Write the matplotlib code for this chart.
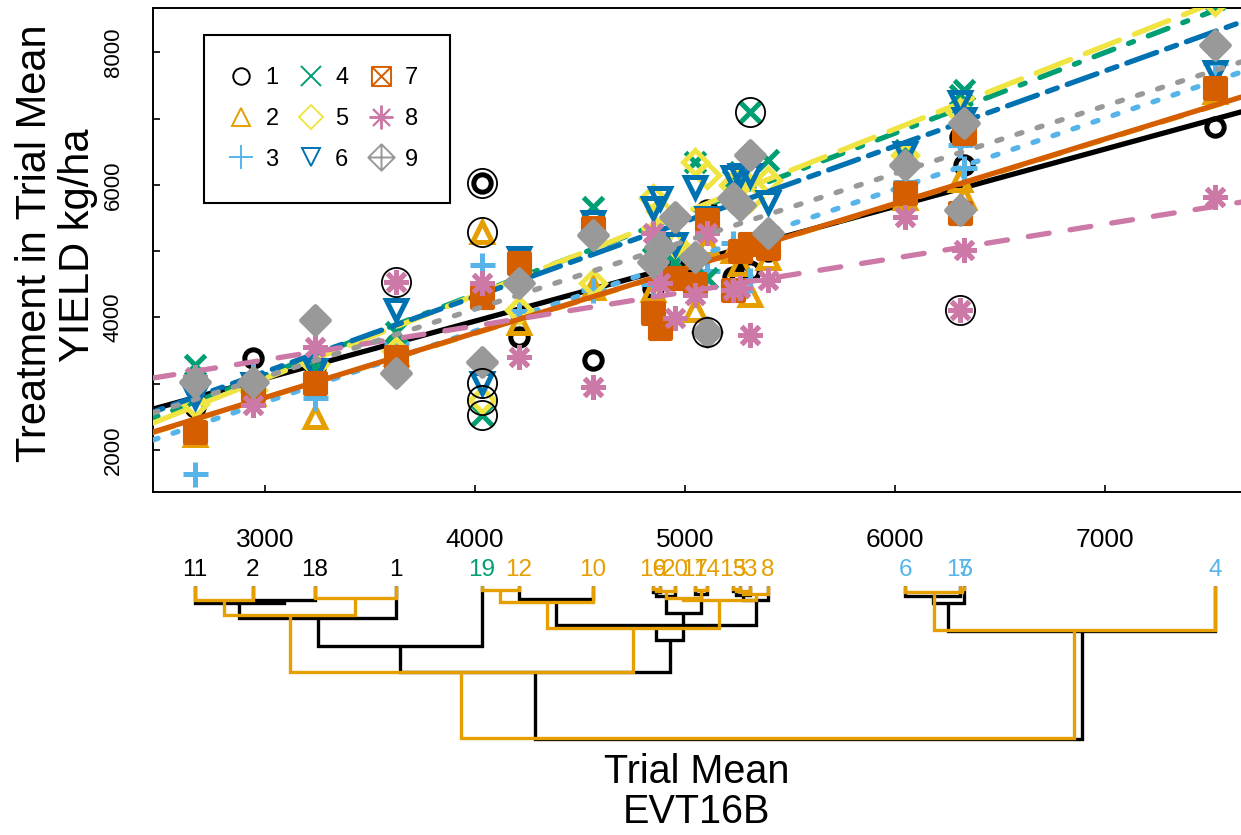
import numpy as np
import matplotlib
matplotlib.use("Agg")
import matplotlib.pyplot as plt
from matplotlib.path import Path
from matplotlib.lines import Line2D

plt.rcParams['font.family'] = ['Liberation Sans', 'DejaVu Sans']

# ---------------- data ----------------
genotypes = [1, 2, 3, 4, 5, 6, 7, 8, 9]
trial_labels = [11, 2, 18, 1, 19, 12, 10, 16, 9, 20, 17, 14, 13, 5, 3, 8, 6, 15, 7, 4]
trial_means = [2667, 2943, 3238, 3624, 4033, 4210, 4562, 4848, 4881, 4952,
               5048, 5105, 5229, 5262, 5310, 5395, 6048, 6310, 6329, 7524]
# leaf label colour group per trial
trial_group = ['k', 'k', 'k', 'k', 'g', 'o', 'o', 'o', 'o', 'o',
               'o', 'o', 'o', 'o', 'o', 'o', 's', 's', 's', 's']

# yield (kg/ha) of genotypes 1..9 in each trial
yield_by_trial = {
    11: [2650, 2226, 1640, 3282, 2700, 2800, 2271, 3100, 3025],
    2:  [3387, 2850, 3150, 2950, 2900, 3000, 2905, 2680, 3025],
    18: [3250, 2500, 2785, 3250, 3300, 3200, 3010, 3553, 3960],
    1:  [3600, 3450, 3614, 3780, 3500, 4111, 3402, 4533, 3160],
    19: [6027, 5287, 4790, 2528, 2754, 3010, 4307, 4518, 3327],
    12: [3704, 3915, 4100, 4700, 4111, 4900, 4820, 3402, 4518],
    10: [3357, 4450, 4412, 5665, 4518, 5440, 5348, 2950, 5242],
    16: [4443, 4412, 4500, 4900, 5800, 5650, 4066, 5272, 4835],
    9:  [4800, 4600, 4700, 5000, 5600, 5800, 3840, 4518, 5061],
    20: [4900, 5212, 4900, 4835, 5100, 5100, 4600, 3990, 5514],
    17: [4609, 4111, 4900, 6343, 6343, 5967, 4500, 4337, 4910],
    14: [5620, 5100, 4700, 4594, 6147, 5500, 5468, 5272, 3780],
    13: [4609, 5000, 5121, 6070, 6000, 6117, 4412, 4412, 5800],
    5:  [4650, 4800, 5100, 6200, 6100, 6150, 5000, 4450, 5700],
    3:  [4700, 4337, 4563, 7097, 5800, 6147, 5100, 3735, 6449],
    8:  [5000, 4900, 5300, 6373, 6070, 5740, 5050, 4563, 5272],
    6:  [5800, 5800, 6040, 6524, 6450, 6479, 5875, 5514, 6298],
    15: [6720, 6070, 6600, 7350, 7100, 7250, 5574, 4111, 5619],
    7:  [6300, 5800, 6250, 7430, 6900, 7000, 6780, 5016, 6932],
    4:  [6870, 7400, 7836, 8800, 8750, 7700, 7460, 5815, 8108],
}

# regression of each genotype on trial mean
reg_intercept = [484, -140, -491, -517, -689, -227, -134, 1823, 37]
reg_slope = [0.865, 0.975, 1.071, 1.216, 1.255, 1.135, 0.975, 0.512, 1.022]

# points flagged as outliers (trial, genotype)
outliers = [(19, 1), (19, 2), (19, 6), (19, 5), (19, 4), (1, 8), (3, 4), (14, 9), (15, 8)]

# agglomeration of trials, two clusterings: (left, right, height)
tree_black = {
    'b1': (2, 18, 14), 'b2': (11, 'b1', 17), 'b3': ('b2', 1, 32), 'b4': ('b3', 19, 60),
    'b5': (12, 10, 13),
    'm1': (16, 9, 6), 'm2': ('m1', 20, 10), 'm3': (17, 14, 8), 'm4': ('m2', 'm3', 27),
    'm5': (13, 5, 5), 'm6': ('m5', 3, 9), 'm7': ('m6', 8, 14),
    'b6': ('b5', 'm7', 39), 'b7': ('b6', 'm4', 54), 'b8': ('b4', 'b7', 86),
    'r1': (6, 15, 10), 'r2': ('r1', 7, 17), 'r3': ('r2', 4, 45),
    'root': ('b8', 'r3', 153),
}
tree_orange = {
    'o1': (11, 2, 14), 'o2': (18, 1, 12), 'o3': ('o1', 'o2', 29),
    'o4': (19, 12, 4), 'o5': ('o4', 10, 16),
    'p1': (16, 9, 3), 'p2': ('p1', 20, 5), 'p3': (17, 14, 4), 'p4': ('p2', 'p3', 12),
    'p5': (13, 5, 3), 'p6': ('p5', 3, 5), 'p7': ('p6', 8, 8), 'p8': ('p4', 'p7', 14),
    'o6': ('o5', 'p8', 42), 'o7': ('o3', 'o6', 86),
    'q1': (15, 7, 3), 'q2': (6, 'q1', 6), 'q3': ('q2', 4, 44),
    'root': ('o7', 'q3', 152),
}

# ---------------- styles ----------------
cols = ['#000000', '#E69F00', '#56B4E9', '#009E73', '#F0E442',
        '#0072B2', '#D55E00', '#CC79A7', '#999999']
group_col = {'k': '#000000', 'g': '#009E73', 'o': '#E69F00', 's': '#56B4E9'}

box_x = Path([(-1, -1), (1, -1), (1, 1), (-1, 1), (-1, -1),
              (-1, -1), (1, 1), (1, -1), (-1, 1)],
             [Path.MOVETO, Path.LINETO, Path.LINETO, Path.LINETO, Path.CLOSEPOLY,
              Path.MOVETO, Path.LINETO, Path.MOVETO, Path.LINETO])
diam_plus = Path([(0, -1), (1, 0), (0, 1), (-1, 0), (0, -1),
                  (0, -1), (0, 1), (-1, 0), (1, 0)],
                 [Path.MOVETO, Path.LINETO, Path.LINETO, Path.LINETO, Path.CLOSEPOLY,
                  Path.MOVETO, Path.LINETO, Path.MOVETO, Path.LINETO])
asterisk = (8, 2, 0)

markers = ['o', '^', '+', 'x', 'D', 'v', box_x, asterisk, diam_plus]
msizes = [12.5, 14, 18, 14.5, 12.5, 14, 14.5, 18, 20]
filled = [False, False, False, False, False, False, True, False, True]
ltypes = ['-', (0, (4, 4)), (0, (1, 3)), (0, (1, 3, 4, 3)), (0, (7, 3)),
          (0, (2, 2, 6, 2)), '-', (0, (4, 4)), (0, (1, 3))]

W, H = 1241, 835
fig = plt.figure(figsize=(W / 100, H / 100), dpi=100)

def fx(px):
    return px / W

def fy(py):
    return 1 - py / H

# ---------------- main panel ----------------
ax = fig.add_axes([fx(153), fy(492), fx(1241) - fx(153), fy(8) - fy(492)])
ax.set_xlim(2467, 7648)
ax.set_ylim(1367, 8667)

tm = dict(zip(trial_labels, trial_means))
xline = np.array(ax.get_xlim())
for g in range(9):
    xs = np.array(trial_means)
    ys = np.array([yield_by_trial[t][g] for t in trial_labels])
    ax.plot(xs, ys, linestyle='none', marker=markers[g], ms=msizes[g],
            mew=3.6, color=cols[g],
            mfc=cols[g] if filled[g] else 'none', zorder=2 + g)
    ax.plot(xline, reg_intercept[g] + reg_slope[g] * xline, color=cols[g],
            lw=3.8, linestyle=ltypes[g], dash_capstyle='round',
            solid_capstyle='round', zorder=2 + g)

for t, g in outliers:
    ax.plot([tm[t]], [yield_by_trial[t][g - 1]], linestyle='none', marker='o',
            ms=21, mew=1.3, mfc='none', color='black', zorder=20)

ax.spines['right'].set_visible(False)
for s in ['left', 'top', 'bottom']:
    ax.spines[s].set_linewidth(1.4)
ax.set_xticks([3000, 4000, 5000, 6000, 7000])
ax.set_xticklabels(['3000', '4000', '5000', '6000', '7000'], fontsize=19)
ax.set_yticks([2000, 4000, 6000, 8000])
ax.set_yticks([3000, 5000, 7000], minor=True)
ax.set_yticklabels(['2000', '4000', '6000', '8000'], fontsize=16,
                   rotation=90, va='center')
ax.tick_params(axis='x', direction='in', length=5, width=1.2, pad=26)
ax.tick_params(axis='y', which='both', direction='in', length=5, width=1.2, pad=21)

handles = [Line2D([], [], linestyle='none', marker=markers[g],
                  ms=msizes[g] * 0.95, mew=1.4, color=cols[g], mfc='none')
           for g in range(9)]
leg = ax.legend(handles, [str(g) for g in genotypes], ncol=3, fontsize=17,
                loc='upper left', bbox_to_anchor=(fx(204), fy(35)),
                bbox_transform=fig.transFigure, borderaxespad=0,
                handlelength=0.45, handletextpad=0.8, columnspacing=1.15,
                labelspacing=0.8, borderpad=1.35, fancybox=False, framealpha=1)
leg.get_frame().set_edgecolor('black')
leg.get_frame().set_linewidth(1.5)
leg.set_zorder(30)

# ---------------- dendrogram ----------------
dax = fig.add_axes([fx(153), 0, fx(1241) - fx(153), fy(586)])
dax.set_xlim(ax.get_xlim())
dax.set_ylim(249, 0)
dax.axis('off')

def draw_tree(tree, color, lw):
    pos = {t: m for t, m in zip(trial_labels, trial_means)}
    hgt = {t: 0 for t in trial_labels}
    for name, (a, b, h) in tree.items():
        xa, xb = pos[a], pos[b]
        dax.plot([xa, xa, xb, xb], [hgt[a], h, h, hgt[b]], color=color, lw=lw,
                 solid_capstyle='butt', solid_joinstyle='miter', clip_on=False)
        pos[name] = (xa + xb) / 2
        hgt[name] = h

draw_tree(tree_black, '#000000', 2.4)
draw_tree(tree_orange, '#E69F00', 2.4)

for t, m, grp in zip(trial_labels, trial_means, trial_group):
    dax.text(m, -16, str(t), ha='center', va='center', fontsize=17.5,
             color=group_col[grp], clip_on=False)

fig.text(fx(697), fy(772), 'Trial Mean', ha='center', va='center', fontsize=28.5)
fig.text(fx(697), fy(812), 'EVT16B', ha='center', va='center', fontsize=28.5)
fig.text(fx(35), fy(243), 'Treatment in Trial Mean', ha='center', va='center',
         fontsize=30, rotation=90)
fig.text(fx(78), fy(245), 'YIELD kg/ha', ha='center', va='center',
         fontsize=30, rotation=90)

fig.savefig('out.png', dpi=100)
